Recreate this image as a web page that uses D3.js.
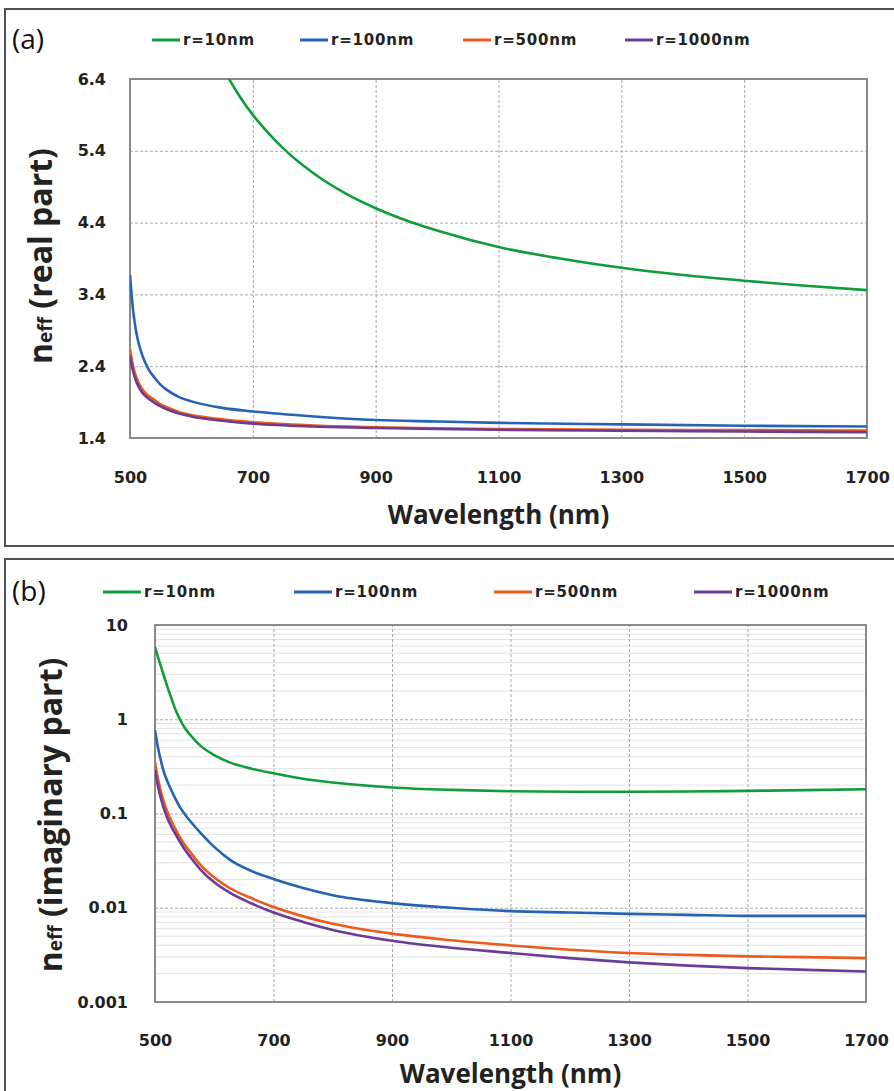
<!DOCTYPE html>
<html>
<head>
<meta charset="utf-8">
<script src="https://d3js.org/d3.v7.min.js"></script>
<style>
  body { margin: 0; background: #fff; }
  svg { display: block; }
</style>
</head>
<body>
<div id="chart"></div>
<script>
// series labels + colours
const seriesNames = ["r=10nm", "r=100nm", "r=500nm", "r=1000nm"];
const seriesColors = ["#0f9d3a", "#2463b5", "#ec5a1c", "#6a3b98"];

// x ticks (shared)
const xTicks = [500, 700, 900, 1100, 1300, 1500, 1700];

// (a) real part
const yTicksA = [1.4, 2.4, 3.4, 4.4, 5.4, 6.4];
const wlA_r10 = [640, 660, 680, 700, 725, 750, 800, 850, 900, 950, 1000, 1100, 1200, 1300, 1400, 1500, 1600, 1700];
const nA_r10 = [6.75, 6.42, 6.14, 5.90, 5.65, 5.43, 5.08, 4.81, 4.60, 4.43, 4.29, 4.06, 3.90, 3.77, 3.67, 3.59, 3.52, 3.46];
const wlA = [500, 505, 510, 520, 530, 540, 550, 560, 580, 600, 650, 700, 800, 900, 1000, 1100, 1300, 1500, 1700];
const nA_r100 = [3.67, 3.18, 2.88, 2.55, 2.36, 2.24, 2.14, 2.07, 1.97, 1.91, 1.82, 1.77, 1.70, 1.65, 1.63, 1.61, 1.59, 1.57, 1.56];
const nA_r500 = [2.63, 2.40, 2.25, 2.08, 1.99, 1.93, 1.87, 1.83, 1.76, 1.72, 1.66, 1.62, 1.575, 1.55, 1.535, 1.525, 1.515, 1.51, 1.505];
const nA_r1000 = [2.55, 2.33, 2.19, 2.03, 1.95, 1.89, 1.84, 1.80, 1.74, 1.70, 1.64, 1.60, 1.56, 1.54, 1.525, 1.515, 1.50, 1.49, 1.48];

// (b) imaginary part
const yTicksB = [0.001, 0.01, 0.1, 1, 10];
const wlB = [500, 505, 510, 514, 521, 528, 535, 542, 550, 560, 576, 600, 626, 663, 700, 750, 800, 900, 1000, 1100, 1200, 1300, 1400, 1500, 1600, 1700];
const kB_r10 = [5.83, 4.57, 3.63, 3.02, 2.21, 1.64, 1.245, 1.0, 0.813, 0.676, 0.528, 0.417, 0.349, 0.299, 0.267, 0.234, 0.213, 0.189, 0.178, 0.172, 0.170, 0.170, 0.171, 0.174, 0.177, 0.181];
const kB_r100 = [0.764, 0.501, 0.363, 0.288, 0.219, 0.174, 0.141, 0.117, 0.0989, 0.0822, 0.0631, 0.0442, 0.0324, 0.0245, 0.0202, 0.0162, 0.0136, 0.0112, 0.0100, 0.0092, 0.0089, 0.0086, 0.0084, 0.0082, 0.0082, 0.0082];
const kB_r500 = [0.352, 0.234, 0.170, 0.138, 0.1035, 0.0822, 0.0676, 0.0562, 0.0468, 0.0385, 0.0288, 0.0209, 0.0162, 0.0126, 0.0102, 0.0081, 0.00676, 0.00531, 0.00452, 0.00398, 0.00359, 0.00331, 0.00316, 0.00305, 0.00299, 0.00292];
const kB_r1000 = [0.288, 0.195, 0.1445, 0.1175, 0.0891, 0.0716, 0.0596, 0.0501, 0.0417, 0.0343, 0.0257, 0.0186, 0.01445, 0.0111, 0.00891, 0.00708, 0.00582, 0.00447, 0.00376, 0.00331, 0.00292, 0.00263, 0.00243, 0.00229, 0.00219, 0.00211];

const W = 894, H = 1091;
const svg = d3.select("#chart").append("svg")
  .attr("width", W).attr("height", H);

const tickFont = "'DejaVu Sans', Verdana, sans-serif";
const titleFont = "'Open Sans', 'Noto Sans', sans-serif";

function zip(xs, ys) { return xs.map((x, i) => ({x: x, y: ys[i]})); }

function drawPanel(p) {
  const g = svg.append("g");
  // outer frame
  g.append("rect")
    .attr("x", p.frame[0]).attr("y", p.frame[1])
    .attr("width", p.frame[2]).attr("height", p.frame[3])
    .attr("fill", "none").attr("stroke", "#505050").attr("stroke-width", 2);

  const x = d3.scaleLinear().domain([500, 1700]).range([p.left, p.right]);
  const y = p.log
    ? d3.scaleLog().domain([0.001, 10]).range([p.bottom, p.top])
    : d3.scaleLinear().domain([1.4, 6.4]).range([p.bottom, p.top]);

  // minor grid (log panel)
  if (p.log) {
    const minors = [];
    [0.001, 0.01, 0.1, 1].forEach(d => { for (let k = 2; k <= 9; k++) minors.push(d * k); });
    g.append("g").selectAll("line").data(minors).join("line")
      .attr("x1", p.left).attr("x2", p.right)
      .attr("y1", d => y(d)).attr("y2", d => y(d))
      .attr("stroke", "#e2e2e2").attr("stroke-width", 1);
  }
  // major grid
  g.append("g")
    .attr("transform", `translate(0,${p.bottom})`)
    .call(d3.axisBottom(x).tickValues(xTicks).tickSize(-(p.bottom - p.top)).tickFormat(""))
    .call(a => a.select(".domain").remove())
    .call(a => a.selectAll("line").attr("stroke", "#a8a8a8").attr("stroke-dasharray", "3,2"));
  g.append("g")
    .attr("transform", `translate(${p.left},0)`)
    .call(d3.axisLeft(y).tickValues(p.yTicks).tickSize(-(p.right - p.left)).tickFormat(""))
    .call(a => a.select(".domain").remove())
    .call(a => a.selectAll("line").attr("stroke", "#a8a8a8").attr("stroke-dasharray", "3,2"));

  // plot border
  g.append("rect")
    .attr("x", p.left).attr("y", p.top)
    .attr("width", p.right - p.left).attr("height", p.bottom - p.top)
    .attr("fill", "none").attr("stroke", "#8a8a8a").attr("stroke-width", 2);

  // tick labels
  g.append("g")
    .attr("transform", `translate(0,${p.bottom + p.xLabelGap})`)
    .call(d3.axisBottom(x).tickValues(xTicks).tickSize(0).tickPadding(0).tickFormat(d3.format("d")))
    .call(a => a.select(".domain").remove())
    .call(a => a.selectAll("text")
      .attr("font-family", tickFont).attr("font-weight", "bold")
      .attr("font-size", 16).attr("fill", "#222"));
  g.append("g")
    .attr("transform", `translate(${p.yLabelX},0)`)
    .call(d3.axisLeft(y).tickValues(p.yTicks).tickSize(0).tickPadding(0)
      .tickFormat(p.log ? (d => String(d)) : d3.format(".1f")))
    .call(a => a.select(".domain").remove())
    .call(a => a.selectAll("text")
      .attr("font-family", tickFont).attr("font-weight", "bold")
      .attr("font-size", 16).attr("fill", "#222"));

  // curves
  const clipId = "clip" + p.id;
  svg.append("clipPath").attr("id", clipId).append("rect")
    .attr("x", p.left).attr("y", p.top)
    .attr("width", p.right - p.left).attr("height", p.bottom - p.top);
  const line = d3.line().x(d => x(d.x)).y(d => y(d.y)).curve(d3.curveMonotoneX);
  g.append("g").attr("clip-path", `url(#${clipId})`)
    .selectAll("path").data(p.series).join("path")
    .attr("d", d => line(d.values))
    .attr("fill", "none")
    .attr("stroke", (d, i) => seriesColors[i])
    .attr("stroke-width", 2.6);

  // legend
  const lg = g.append("g").selectAll("g").data(seriesNames).join("g")
    .attr("transform", (d, i) => `translate(${p.legendX[i]},${p.legendY})`);
  lg.append("line").attr("x1", 0).attr("x2", p.legendLine)
    .attr("stroke", (d, i) => seriesColors[i]).attr("stroke-width", 3);
  lg.append("text").attr("x", p.legendLine + 3).attr("dy", "0.35em")
    .attr("font-family", tickFont).attr("font-weight", "bold")
    .attr("font-size", 15).attr("letter-spacing", 0.8).attr("fill", "#222")
    .text(d => d);

  // panel letter
  g.append("text").attr("x", p.letterX).attr("y", p.letterY)
    .attr("font-family", titleFont).attr("font-size", 28).attr("fill", "#111")
    .text(p.letter);

  // x title
  g.append("text")
    .attr("x", (p.left + p.right) / 2).attr("y", p.xTitleY)
    .attr("text-anchor", "middle")
    .attr("font-family", titleFont).attr("font-weight", "bold")
    .attr("font-size", 26).attr("fill", "#222")
    .text("Wavelength (nm)");

  // y title
  const yt = g.append("text")
    .attr("transform", `translate(${p.yTitleX},${p.yTitleY}) rotate(-90)`)
    .attr("text-anchor", "middle")
    .attr("font-family", titleFont).attr("font-weight", "bold")
    .attr("font-size", 32).attr("fill", "#222");
  yt.append("tspan").text("n");
  yt.append("tspan").attr("font-size", 19).text("eff");
  yt.append("tspan").text(" " + p.yTitle);
}

drawPanel({
  id: "a", letter: "(a)", log: false,
  frame: [5, 9, 890, 537],
  left: 130, right: 867, top: 79, bottom: 438,
  yTicks: yTicksA, xLabelGap: 34, yLabelX: 106,
  xTitleY: 524, yTitleX: 52, yTitleY: 256, yTitle: "(real part)",
  legendX: [152, 300, 463, 625], legendY: 40, legendLine: 28,
  letterX: 12, letterY: 49,
  series: [
    {values: zip(wlA_r10, nA_r10)},
    {values: zip(wlA, nA_r100)},
    {values: zip(wlA, nA_r500)},
    {values: zip(wlA, nA_r1000)}
  ]
});

drawPanel({
  id: "b", letter: "(b)", log: true,
  frame: [5, 559, 890, 545],
  left: 155, right: 866, top: 625, bottom: 1002,
  yTicks: yTicksB, xLabelGap: 33, yLabelX: 128,
  xTitleY: 1083, yTitleX: 62, yTitleY: 815, yTitle: "(imaginary part)",
  legendX: [103, 294, 494, 694], legendY: 592, legendLine: 38,
  letterX: 12, letterY: 601,
  series: [
    {values: zip(wlB, kB_r10)},
    {values: zip(wlB, kB_r100)},
    {values: zip(wlB, kB_r500)},
    {values: zip(wlB, kB_r1000)}
  ]
});
</script>
</body>
</html>
